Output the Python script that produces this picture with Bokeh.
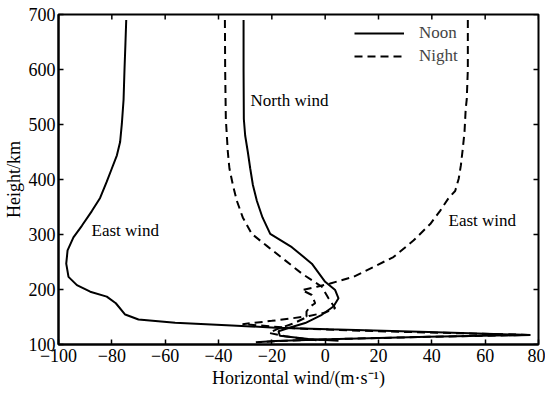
import math
from bokeh.plotting import figure
from bokeh.layouts import column
from bokeh.models import FixedTicker, Label, Legend, LegendItem, Range1d, LinearAxis, Spacer
from bokeh.embed import file_html
from bokeh.resources import INLINE

# ---- data ----
noon_east_wind = [-74.6, -74.9, -75.25, -75.6, -76.25, -76.9, -78.1, -80.0, -81.9, -84.4, -87.5,
                  -91.25, -94.4, -96.6, -97.1, -96.25, -93.1, -88.1, -81.9, -78.5,
                  -75.0, -70.0, -56.25, -35.0, -18.6, 1.25, 38.75, 77.0,
                  38.75, 1.25, -18.6, -26.0]
noon_east_height = [690, 647, 600, 545, 501, 468, 444, 420, 396, 366.5, 342.6,
                    315.8, 294.8, 271, 247, 223, 208, 196, 187, 175,
                    154.5, 145.5, 139.4, 134.7, 130.5, 127.6, 122.8, 117.2,
                    114.3, 109.7, 106.5, 104]

noon_north_wind = [-30.6, -30.6, -30.5, -30.0, -29.0, -28.1, -27.1, -25.6, -23.5, -20.6, -12.5,
                   -5.0, 0.0, 3.75, 5.0, 3.1, -1.25, -7.5, -13.75, -17.5, -17.0, -6.25, 5.0]
noon_north_height = [690, 600, 510, 480, 450, 420, 390, 361, 331, 301, 277,
                     247, 214, 199, 184, 169, 154, 139, 130, 124, 116, 110, 107]

night_north_wind = [-37.6, -37.5, -37.25, -36.5, -35.9, -34.6, -33.1, -30.9, -27.5, -21.3, -15.0,
                    -8.75, -3.75, -1.25, 1.25, 3.75, 0.0, -6.0, -12.0, -18.0, -21.0, -15.0,
                    -7.5, -2.0]
night_north_height = [690, 600, 510, 450, 420, 390, 361, 331, 301, 277, 253,
                      229, 213, 205, 184, 166, 158, 152, 138, 128, 121, 115,
                      110, 107]

night_east_wind = [53.5, 53.5, 53.1, 52.7, 52.25, 51.6, 50.9, 50.1, 48.75, 46.25, 43.1, 39.4,
                   33.1, 25.6, 18.1, 10.6, 1.9, -3.1, -8.7, -5.0, -3.75, -5.6, -7.0, -7.0,
                   -20.0, -31.0, -10.0, 20.0, 76.0, 38.75, 1.25, -18.6, -25.0]
night_east_height = [690, 600, 546, 528, 486, 456, 426, 402, 379, 366, 343, 319,
                     289, 259, 241, 223, 211, 205, 199, 190, 175, 169, 160, 151,
                     143, 137, 129, 124, 117.5, 114, 109.5, 106, 104]

x_ticks = [-100, -80, -60, -40, -20, 0, 20, 40, 60, 80]
y_ticks = [100, 200, 300, 400, 500, 600, 700]
x_min, x_max = -100, 80
y_min, y_max = 100, 700

annotations = [("North wind", -28.0, 544), ("East wind", -87.6, 307), ("East wind", 46.25, 325)]

FONT = "Liberation Serif"

p = figure(frame_width=480, frame_height=330, output_backend="svg", toolbar_location=None,
           x_range=Range1d(x_min, x_max), y_range=Range1d(y_min, y_max),
           min_border_left=52, min_border_right=7, min_border_top=10, min_border_bottom=41,
           background_fill_color="white", border_fill_color="white")
p.grid.visible = False
p.outline_line_color = "black"
p.outline_line_width = 2

bottom_ax = p.below[0]
left_ax = p.left[0]

r_noon_e = p.line(noon_east_wind, noon_east_height, line_color="black", line_width=2)
r_noon_n = p.line(noon_north_wind, noon_north_height, line_color="black", line_width=2)
r_night_n = p.line(night_north_wind, night_north_height, line_color="black", line_width=2,
                   line_dash="8 5")
r_night_e = p.line(night_east_wind, night_east_height, line_color="black", line_width=2,
                   line_dash="8 5")

# inward tick marks on the top and right frame edges
p.ray(x=x_ticks, y=[y_max] * len(x_ticks), length=5, length_units="screen",
      angle=-math.pi / 2, line_color="black", line_width=1.5)
p.ray(x=[x_max] * len(y_ticks), y=y_ticks, length=5, length_units="screen",
      angle=math.pi, line_color="black", line_width=1.5)

# empty panel above so a small top border is kept
top_pad = LinearAxis(ticker=FixedTicker(ticks=[]), axis_line_color=None,
                     major_tick_line_color=None, minor_tick_line_color=None)
p.add_layout(top_pad, "above")


def style(ax, ticks):
    ax.ticker = FixedTicker(ticks=ticks)
    ax.major_tick_in = 5
    ax.major_tick_out = 0
    ax.minor_tick_line_color = None
    ax.axis_line_width = 2
    ax.major_tick_line_width = 1.5
    ax.axis_line_color = "black"
    ax.major_tick_line_color = "black"
    ax.major_label_text_font = FONT
    ax.major_label_text_font_size = "18px"
    ax.major_label_text_color = "black"
    ax.major_label_text_line_height = 1.0
    ax.axis_label_text_font = FONT
    ax.axis_label_text_font_size = "18px"
    ax.axis_label_text_font_style = "normal"
    ax.axis_label_text_color = "black"
    ax.axis_label_text_line_height = 1.0


style(bottom_ax, x_ticks)
style(left_ax, y_ticks)
bottom_ax.axis_label = "Horizontal wind/(m·s⁻¹)"
left_ax.axis_label = "Height/km"
bottom_ax.major_label_standoff = 4
bottom_ax.axis_label_standoff = 3
left_ax.major_label_standoff = 3
left_ax.axis_label_standoff = 2

for txt, xv, yv in annotations:
    p.add_layout(Label(x=xv, y=yv, text=txt, text_font=FONT, text_font_size="17px",
                       text_baseline="middle", text_align="left", text_color="black"))

legend = Legend(items=[LegendItem(label="Noon", renderers=[r_noon_e]),
                       LegendItem(label="Night", renderers=[r_night_e])],
                location="top_right", margin=9, padding=0, spacing=3,
                glyph_width=50, glyph_height=20, label_height=20, label_width=110,
                label_standoff=15, label_text_font=FONT, label_text_font_size="17px",
                border_line_color=None, background_fill_alpha=0)
p.add_layout(legend)

layout = column(Spacer(width=539, height=4), p, spacing=0)

open("out.html", "w").write(file_html(layout, INLINE))
